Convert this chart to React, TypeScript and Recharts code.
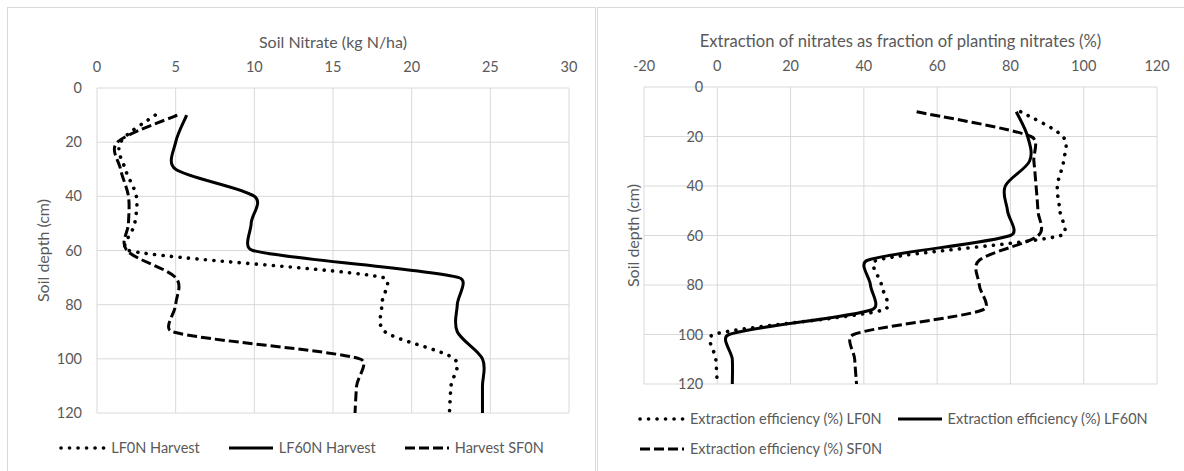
import React from 'react';
import { LineChart, Line, XAxis, YAxis, CartesianGrid, Legend } from 'recharts';

// depth of each sample (cm)
const depths = [10, 20, 30, 40, 50, 60, 70, 80, 90, 100, 110, 120];

// left panel: soil nitrate (kg N/ha)
const lf0nHarvest = [3.7, 1.5, 1.8, 2.5, 2.4, 2.0, 18.2, 18.1, 18.3, 22.7, 22.5, 22.4];
const lf60nHarvest = [5.7, 5.0, 5.0, 10.0, 9.8, 9.9, 23.0, 22.9, 22.9, 24.5, 24.5, 24.5];
const sf0nHarvest = [5.1, 1.3, 1.5, 2.0, 2.0, 1.9, 5.0, 5.0, 4.8, 16.7, 16.5, 16.4];

// right panel: extraction efficiency (%)
const effLf0n = [82.8, 94.3, 94.5, 92.8, 93.5, 93.8, 43.5, 44.8, 45.5, -1.0, -0.4, 0];
const effLf60n = [81.6, 84.7, 85.2, 78.6, 79.2, 80.0, 41.0, 41.8, 42.2, 3.2, 4.1, 4.1];
const effSf0n = [54.4, 85.6, 86.4, 87.0, 87.5, 87.6, 71.5, 71.5, 72.5, 37.2, 37.5, 38.0];

const depthTicks = [0, 20, 40, 60, 80, 100, 120];
const nitrateTicks = [0, 5, 10, 15, 20, 25, 30];
const extractionTicks = [-20, 0, 20, 40, 60, 80, 100, 120];

const seriesOrder = ['lf0n', 'lf60n', 'sf0n'];

const leftData = depths.map((depth, i) => ({
  depth,
  lf0n: lf0nHarvest[i],
  lf60n: lf60nHarvest[i],
  sf0n: sf0nHarvest[i],
}));

const rightData = depths.map((depth, i) => ({
  depth,
  lf0n: effLf0n[i],
  lf60n: effLf60n[i],
  sf0n: effSf0n[i],
}));

const GRID = '#d9d9d9';
const TEXT = '#595959';
const FONT = 'Lato, "Open Sans", sans-serif';
const TICK_SIZE = 14.5;
const TITLE_SIZE = 16;

// Excel-like "smoothed line": Catmull-Rom bezier, arms capped relative to the segment length
const excelSmooth = (context: any) => {
  let pts: number[][] = [];
  const arm = (a: number[], b: number[], seg: number) => {
    let dx = (b[0] - a[0]) / 6;
    let dy = (b[1] - a[1]) / 6;
    const len = Math.hypot(dx, dy);
    const cap = seg * 0.4;
    if (len > cap && len > 0) {
      dx *= cap / len;
      dy *= cap / len;
    }
    return [dx, dy];
  };
  return {
    areaStart() {},
    areaEnd() {},
    lineStart() {
      pts = [];
    },
    point(x: number, y: number) {
      pts.push([+x, +y]);
    },
    lineEnd() {
      const n = pts.length;
      if (!n) return;
      context.moveTo(pts[0][0], pts[0][1]);
      for (let i = 0; i < n - 1; i++) {
        const p0 = pts[i - 1] || pts[i];
        const p1 = pts[i];
        const p2 = pts[i + 1];
        const p3 = pts[i + 2] || p2;
        const seg = Math.hypot(p2[0] - p1[0], p2[1] - p1[1]);
        const a1 = arm(p0, p2, seg);
        const a2 = arm(p1, p3, seg);
        context.bezierCurveTo(p1[0] + a1[0], p1[1] + a1[1], p2[0] - a2[0], p2[1] - a2[1], p2[0], p2[1]);
      }
    },
  };
};

const lineStyles: Record<string, { strokeWidth: number; strokeDasharray?: string; strokeLinecap?: 'round' | 'butt' }> = {
  lf0n: { strokeWidth: 3.6, strokeDasharray: '0.1 8.4', strokeLinecap: 'round' },
  lf60n: { strokeWidth: 3 },
  sf0n: { strokeWidth: 3, strokeDasharray: '10 4', strokeLinecap: 'butt' },
};

const makeLegend = (justify: string, colGap: number) => (props: any) => {
  const items = [...(props.payload || [])].sort(
    (a: any, b: any) => seriesOrder.indexOf(a.dataKey) - seriesOrder.indexOf(b.dataKey)
  );
  return (
    <div
      style={{
        display: 'flex',
        flexWrap: 'wrap',
        justifyContent: justify,
        columnGap: colGap,
        rowGap: 12,
        fontSize: TICK_SIZE,
        color: TEXT,
        lineHeight: '18px',
      }}
    >
      {items.map((entry: any) => {
        const st = lineStyles[entry.dataKey];
        return (
          <div key={entry.dataKey} style={{ display: 'flex', alignItems: 'center' }}>
            <svg width={48} height={10} style={{ marginRight: 4 }}>
              <line
                x1={2}
                y1={5}
                x2={46}
                y2={5}
                stroke="#000"
                strokeWidth={st.strokeWidth}
                strokeDasharray={st.strokeDasharray}
                strokeLinecap={st.strokeLinecap}
              />
            </svg>
            <span>{entry.value}</span>
          </div>
        );
      })}
    </div>
  );
};

// left chart geometry
const L_W = 587;
const L_H = 463;
const L_MARGIN = { top: 45, right: 26, bottom: 58, left: 29 };
const L_YAXIS_W = 60;

// right chart geometry
const R_W = 589;
const R_H = 463;
const R_MARGIN = { top: 44, right: 30, bottom: 87, left: 0 };
const R_YAXIS_W = 46;
const R_XMIN = -20;
const R_XMAX = 120;
const R_PLOT_W = R_W - R_MARGIN.left - R_MARGIN.right - R_YAXIS_W;
// Excel draws the depth labels where the value axis crosses zero
const R_ZERO_SHIFT = (R_PLOT_W * (0 - R_XMIN)) / (R_XMAX - R_XMIN);

const ZeroCrossTick = (props: any) => (
  <text
    x={props.x + R_ZERO_SHIFT}
    y={props.y}
    dy="0.36em"
    textAnchor="end"
    fill={TEXT}
    fontSize={TICK_SIZE}
  >
    {props.payload.value}
  </text>
);

const panelStyle = (left: number, width: number): React.CSSProperties => ({
  position: 'absolute',
  left,
  top: 7,
  width,
  height: 480,
  border: `1px solid ${GRID}`,
  background: '#fff',
});

export default function App() {
  return (
    <div
      style={{
        position: 'absolute',
        left: 0,
        top: 0,
        width: 1184,
        height: 471,
        overflow: 'hidden',
        background: '#fff',
        fontFamily: FONT,
      }}
    >
      <div style={panelStyle(7, L_W)}>
        <LineChart width={L_W} height={L_H} data={leftData} layout="vertical" margin={L_MARGIN}>
          <CartesianGrid stroke={GRID} strokeWidth={1} />
          <XAxis
            type="number"
            orientation="top"
            domain={[0, 30]}
            ticks={nitrateTicks}
            axisLine={false}
            tickLine={false}
            tickSize={6}
            tickMargin={10}
            height={35}
            tick={{ fill: TEXT, fontSize: TICK_SIZE }}
            label={{ value: 'Soil Nitrate (kg N/ha)', position: 'top', offset: 5, fill: TEXT, fontSize: TITLE_SIZE }}
          />
          <YAxis
            type="number"
            dataKey="depth"
            domain={[0, 120]}
            ticks={depthTicks}
            axisLine={false}
            tickLine={false}
            tickSize={6}
            tickMargin={9}
            width={L_YAXIS_W}
            tick={{ fill: TEXT, fontSize: TICK_SIZE }}
            label={{
              value: 'Soil depth (cm)',
              angle: -90,
              position: 'insideLeft',
              offset: 6,
              fill: TEXT,
              fontSize: TITLE_SIZE,
              style: { textAnchor: 'middle' },
            }}
          />
          <Legend
            verticalAlign="middle"
            align="center"
            layout="horizontal"
            wrapperStyle={{ top: 431, left: 0, width: L_W }}
            content={makeLegend('center', 27)}
          />
          <Line dataKey="lf0n" name="LF0N Harvest" type={excelSmooth as any} stroke="#000" dot={false} activeDot={false} isAnimationActive={false} {...lineStyles.lf0n} />
          <Line dataKey="lf60n" name="LF60N Harvest" type={excelSmooth as any} stroke="#000" dot={false} activeDot={false} isAnimationActive={false} {...lineStyles.lf60n} />
          <Line dataKey="sf0n" name="Harvest SF0N" type={excelSmooth as any} stroke="#000" dot={false} activeDot={false} isAnimationActive={false} {...lineStyles.sf0n} />
        </LineChart>
      </div>

      <div style={panelStyle(597, R_W)}>
        <LineChart width={R_W} height={R_H} data={rightData} layout="vertical" margin={R_MARGIN}>
          <CartesianGrid stroke={GRID} strokeWidth={1} />
          <XAxis
            type="number"
            orientation="top"
            domain={[R_XMIN, R_XMAX]}
            ticks={extractionTicks}
            axisLine={false}
            tickLine={false}
            tickSize={6}
            tickMargin={10}
            height={35}
            tick={{ fill: TEXT, fontSize: TICK_SIZE }}
            label={{
              value: 'Extraction of nitrates as fraction of planting nitrates (%)',
              position: 'top',
              offset: 5,
              fill: TEXT,
              fontSize: 16.6,
            }}
          />
          <YAxis
            type="number"
            dataKey="depth"
            domain={[0, 120]}
            ticks={depthTicks}
            axisLine={false}
            tickLine={false}
            tickSize={6}
            tickMargin={8}
            width={R_YAXIS_W}
            tick={<ZeroCrossTick />}
            label={{
              value: 'Soil depth (cm)',
              angle: -90,
              position: 'insideLeft',
              offset: 35,
              fill: TEXT,
              fontSize: TITLE_SIZE,
              style: { textAnchor: 'middle' },
            }}
          />
          <Legend
            verticalAlign="middle"
            align="center"
            layout="horizontal"
            wrapperStyle={{ top: 402, left: 40, width: 530 }}
            content={makeLegend('flex-start', 14)}
          />
          <Line dataKey="lf0n" name="Extraction efficiency (%) LF0N" type={excelSmooth as any} stroke="#000" dot={false} activeDot={false} isAnimationActive={false} {...lineStyles.lf0n} />
          <Line dataKey="lf60n" name="Extraction efficiency (%) LF60N" type={excelSmooth as any} stroke="#000" dot={false} activeDot={false} isAnimationActive={false} {...lineStyles.lf60n} />
          <Line dataKey="sf0n" name="Extraction efficiency (%) SF0N" type={excelSmooth as any} stroke="#000" dot={false} activeDot={false} isAnimationActive={false} {...lineStyles.sf0n} />
        </LineChart>
      </div>
    </div>
  );
}
